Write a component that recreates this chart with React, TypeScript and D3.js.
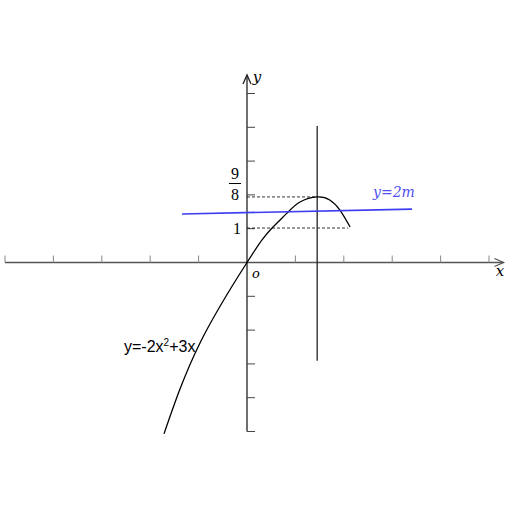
import React from 'react';
import * as d3 from 'd3';

// axis units: one tick = 1 unit (sketch, not to scale)
const xTicks = [-5, -4, -3, -2, -1, 1, 2, 3, 4, 5];
const yTicks = [-5, -4, -3, -2, -1, 1, 2, 3, 4, 5];

const curveX = [-1.715, -0.971, 0, 0.31, 0.517, 0.826, 1.095, 1.45, 1.71, 1.92, 2.13];
const curveY = [-5.07, -2.38, 0, 0.67, 1.02, 1.46, 1.79, 1.94, 1.85, 1.55, 1.05];

const vertex = { x: 1.45, y: 1.94 };
const levelOne = { y: 1.02, xEnd: 2.09 };
const verticalLine = { x: 1.45, y0: -2.91, y1: 4.04 };
const blueLine = { x: [-1.343, 3.41], y: [1.435, 1.58] };

const W = 512;
const H = 512;

export default function App() {
  const x = d3.scaleLinear().domain([-5, 5]).range([5, 489]);
  const y = d3.scaleLinear().domain([-5, 5]).range([431.5, 93.5]);

  const pts: [number, number][] = curveX.map((v, i) => [x(v), y(curveY[i])]);
  const line = d3.line().curve(d3.curveNatural);

  const x0 = x(0);
  const y0 = y(0);
  const xEnd = x(5.3);
  const yTop = y(5.55);

  return (
    <div style={{ position: 'fixed', left: 0, top: 0, width: W, height: H, background: '#fff' }}>
      <svg width={W} height={H} style={{ display: 'block' }}>
        {/* x axis */}
        <line x1={x(-5)} x2={xEnd} y1={y0} y2={y0} stroke="#555" strokeWidth={1.3} />
        <polyline points={`${xEnd - 9},${y0 - 4} ${xEnd},${y0} ${xEnd - 9},${y0 + 4}`} fill="none" stroke="#555" strokeWidth={1.3} />
        {xTicks.map(t => (
          <line key={'xt' + t} x1={x(t)} x2={x(t)} y1={y0} y2={y0 - 7} stroke="#888" strokeWidth={1} />
        ))}
        {/* y axis */}
        <line x1={x0} x2={x0} y1={y(-5)} y2={yTop} stroke="#222" strokeWidth={1.3} />
        <polyline points={`${x0 - 4},${yTop + 9} ${x0},${yTop} ${x0 + 4},${yTop + 9}`} fill="none" stroke="#222" strokeWidth={1.3} />
        {yTicks.map(t => (
          <line key={'yt' + t} x1={x0} x2={x0 + 8} y1={y(t)} y2={y(t)} stroke="#444" strokeWidth={1} />
        ))}

        {/* dashed guides */}
        <line x1={x0} x2={x(vertex.x)} y1={y(vertex.y)} y2={y(vertex.y)} stroke="#000" strokeWidth={0.8} strokeDasharray="3,2" />
        <line x1={x0} x2={x(levelOne.xEnd)} y1={y(levelOne.y)} y2={y(levelOne.y)} stroke="#000" strokeWidth={0.8} strokeDasharray="3,2" />

        {/* vertical line */}
        <line x1={x(verticalLine.x)} x2={x(verticalLine.x)} y1={y(verticalLine.y0)} y2={y(verticalLine.y1)} stroke="#222" strokeWidth={1.3} />

        {/* parabola */}
        <path d={line(pts) || ''} fill="none" stroke="#000" strokeWidth={1.3} />

        {/* blue line y=2m */}
        <line x1={x(blueLine.x[0])} x2={x(blueLine.x[1])} y1={y(blueLine.y[0])} y2={y(blueLine.y[1])} stroke="#3c3cf0" strokeWidth={1.6} />
        <text x={373} y={197} fill="#5050ee" fontFamily="DejaVu Serif, serif" fontStyle="italic" fontSize={14}>y=2m</text>

        {/* labels */}
        <text x={500} y={276} fontFamily="DejaVu Serif, serif" fontStyle="italic" fontSize={15} textAnchor="middle">x</text>
        <text x={257} y={82} fontFamily="DejaVu Serif, serif" fontStyle="italic" fontSize={15} textAnchor="middle">y</text>
        <text x={256} y={278} fontFamily="DejaVu Serif, serif" fontStyle="italic" fontSize={13} textAnchor="middle">o</text>
        <text x={237} y={y(levelOne.y) + 6} fontFamily="Liberation Serif, serif" fontSize={16} textAnchor="middle">1</text>
        <text x={235} y={179} fontFamily="Liberation Serif, serif" fontSize={16} textAnchor="middle">9</text>
        <line x1={229} x2={241} y1={183.5} y2={183.5} stroke="#000" strokeWidth={1} />
        <text x={235} y={200} fontFamily="Liberation Serif, serif" fontSize={16} textAnchor="middle">8</text>
        <text x={124} y={352} fontFamily="Liberation Sans, Arial, sans-serif" fontSize={16}>
          y=-2x<tspan dy={-6} fontSize={10}>2</tspan><tspan dy={6}>+3x</tspan>
        </text>
      </svg>
    </div>
  );
}
